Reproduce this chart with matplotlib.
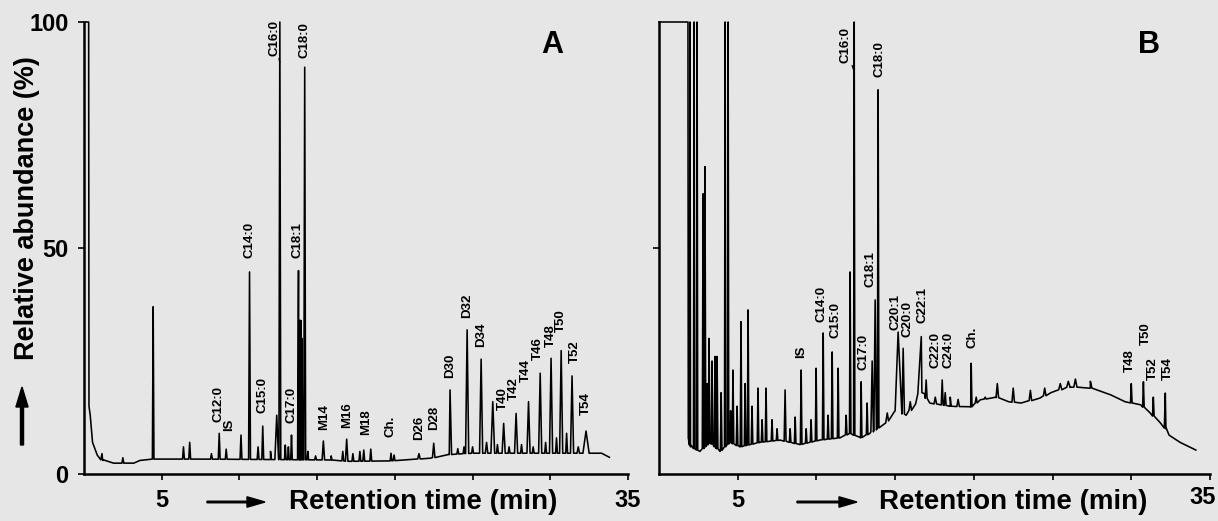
import numpy as np
import matplotlib
matplotlib.use('Agg')
import matplotlib.pyplot as plt

plt.rcParams['font.family'] = ['Liberation Sans', 'DejaVu Sans']
plt.rcParams['font.weight'] = 'bold'

# ---- panel A : baseline vertices (min, %) and peaks (min, %, half width)
a_base_t = [0.1, 0.3, 0.32, 0.4, 0.55, 0.85, 1.2, 1.9, 3.2, 3.6, 4.4, 7.5, 12.0,
            15.9, 17.0, 19.7, 22.3, 23.5, 24.9, 33.3, 33.8]
a_base_v = [100, 100, 15, 13, 7, 4.2, 3.0, 2.4, 2.4, 3.0, 3.3, 3.3, 3.2,
            3.1, 2.8, 2.9, 3.5, 4.3, 4.6, 4.6, 3.7]
a_peak_t = [1.16, 2.5, 4.45, 6.4, 6.8, 8.2, 8.7, 9.15, 10.1, 10.65, 11.2, 11.5, 12.0,
            12.4, 12.6, 12.95, 13.15, 13.35, 13.8, 13.87, 13.95, 14.02, 14.2, 14.4,
            14.9, 15.4, 15.9, 16.65, 16.9, 17.3, 17.75, 18.0, 18.45, 19.75, 19.95,
            21.55, 22.5, 23.55, 24.05, 24.45, 24.65, 25.0, 25.55, 25.9, 26.3, 26.6,
            27.0, 27.35, 27.8, 28.15, 28.6, 28.9, 29.35, 29.7, 30.05, 30.4, 30.7,
            31.05, 31.4, 31.8, 32.3]
a_peak_h = [4.5, 3.6, 37, 6, 7, 4.5, 9, 5.5, 8.6, 44.7, 6, 10.6, 5,
            13, 100, 6.4, 6, 8.6, 45, 34, 34, 30, 90, 5,
            4, 7.3, 4, 5, 7.7, 4.5, 5, 5.3, 5.5, 4.6, 4.2,
            4.5, 6.8, 18.6, 5.6, 6, 31.9, 6, 25.4, 7, 16, 6.5,
            11.2, 6, 13.4, 6.5, 16, 6, 22.3, 7, 25.6, 8, 27.3,
            9, 21.7, 6, 9.5]
a_peak_w = [0.08, 0.06, 0.05, 0.06, 0.06, 0.06, 0.06, 0.06, 0.06, 0.06, 0.06, 0.06, 0.06,
            0.12, 0.06, 0.05, 0.05, 0.05, 0.06, 0.05, 0.05, 0.05, 0.06, 0.05,
            0.06, 0.08, 0.06, 0.06, 0.08, 0.06, 0.06, 0.06, 0.06, 0.06, 0.06,
            0.08, 0.08, 0.1, 0.06, 0.06, 0.1, 0.06, 0.1, 0.08, 0.12, 0.06,
            0.1, 0.06, 0.1, 0.06, 0.1, 0.06, 0.1, 0.06, 0.1, 0.06, 0.1,
            0.06, 0.1, 0.08, 0.2]

a_lab = ['C12:0', 'IS', 'C14:0', 'C15:0', 'C17:0', 'C18:1', 'C18:0', 'M14', 'M16', 'M18',
         'Ch.', 'D26', 'D28', 'D30', 'D32', 'D34', 'T40', 'T42', 'T44', 'T46', 'T48',
         'T50', 'T52', 'T54']
a_lab_t = [8.65, 9.35, 10.65, 11.48, 13.35, 13.74, 14.19, 15.42, 16.9, 18.13,
           19.74, 21.55, 22.5, 23.55, 24.65, 25.55, 26.97, 27.68, 28.45, 29.23, 30.06,
           30.71, 31.55, 32.32]
a_lab_y = [11.5, 9.5, 47.8, 13.5, 11.3, 47.8, 92, 9.7, 10.2, 8.6,
           8.2, 7.5, 9.7, 21.2, 34.5, 28.1, 14.2, 16.4, 20.4, 25.2, 28.1,
           31.4, 24.6, 13.0]

# ---- panel B
b_base_t = [0, 1.84, 1.86, 2.0, 2.6, 3.24, 3.88, 4.5, 5.15, 6.4, 7.7, 8.96, 10.2,
            11.5, 12.1, 12.8, 13.4, 14.4, 15.0, 15.7, 16.3, 16.7, 17.2, 18.5, 19.8,
            20.4, 21.4, 22.2, 23.0, 24.2, 24.9, 26.1, 27.4, 28.7, 29.6, 30.6, 31.2,
            31.85, 32.2, 32.4, 33.1, 34.1]
b_base_v = [100, 100, 8, 6, 5, 7, 5, 7, 6, 7, 7.5, 6.5, 7.5,
            8, 9, 8, 9, 11.3, 14, 13, 15.5, 18, 15.7, 15, 14.8,
            16.4, 17, 16, 15.7, 16.8, 18, 19.3, 19.0, 17.5, 16, 15.3, 13.5,
            11.3, 10, 8.6, 7, 5.3]
b_peak_t = [1.97, 2.23, 2.42, 2.80, 2.92, 3.05, 3.18, 3.37, 3.56, 3.69, 3.95, 4.20, 4.39,
            4.55, 4.70, 4.96, 5.21, 5.47, 5.66, 5.91, 6.29, 6.55, 6.80, 7.18, 7.5,
            8.01, 8.33, 8.65, 9.03, 9.35, 9.66, 9.98, 10.43, 10.74, 11.0, 11.38, 11.89,
            12.14, 12.4, 12.84, 13.22, 13.54, 13.73, 13.92, 14.5, 15.19, 15.51, 15.96,
            16.66, 16.97, 17.55, 17.99, 18.18, 18.5, 19.0, 19.83, 20.15, 20.72, 21.49,
            22.5, 23.59, 24.5, 25.49, 26.0, 26.45, 27.4, 30.0, 30.77, 31.4, 32.16]
b_peak_h = [100, 100, 100, 62, 68, 20, 30, 25, 26, 26, 18, 100, 100,
            14, 23, 15, 33.7, 20, 36.3, 15, 19, 12, 19, 12, 10,
            18.6, 10, 12.6, 23, 10, 12, 23.4, 31.2, 13, 27, 23.4, 13,
            44.7, 100, 20.4, 15.7, 25, 38.5, 85, 13.5, 31.4, 27.8, 16,
            30.4, 20.8, 17, 20.8, 18, 17, 16.5, 24.5, 17, 17, 20,
            19, 18.5, 19, 20, 20.5, 21, 20.5, 20, 20.4, 17, 17.9]
b_peak_w = [0.04, 0.04, 0.04, 0.05, 0.05, 0.05, 0.05, 0.05, 0.05, 0.05, 0.05, 0.04, 0.04,
            0.05, 0.05, 0.05, 0.05, 0.05, 0.05, 0.05, 0.05, 0.05, 0.05, 0.05, 0.05,
            0.06, 0.05, 0.05, 0.05, 0.05, 0.05, 0.05, 0.05, 0.05, 0.05, 0.05, 0.05,
            0.05, 0.04, 0.05, 0.05, 0.08, 0.08, 0.05, 0.08, 0.25, 0.08, 0.08,
            0.22, 0.06, 0.08, 0.06, 0.06, 0.06, 0.08, 0.05, 0.06, 0.06, 0.08,
            0.08, 0.08, 0.08, 0.1, 0.1, 0.1, 0.1, 0.05, 0.05, 0.05, 0.06]

b_lab = ['IS', 'C14:0', 'C15:0', 'C17:0', 'C18:1', 'C18:0', 'C20:1', 'C20:0', 'C22:1',
         'C22:0', 'C24:0', 'Ch.', 'T48', 'T50', 'T52', 'T54']
b_lab_t = [9.03, 10.3, 11.19, 12.97, 13.41, 13.99, 15.0, 15.77, 16.72,
           17.55, 18.37, 19.9, 29.94, 30.9, 31.4, 32.3]
b_lab_y = [25.7, 33.6, 30.0, 23.0, 41.4, 87.8, 31.9, 30.3, 33.4,
           23.5, 23.5, 27.9, 22.6, 28.5, 20.8, 20.8]


def trace(bt, bv, pt, ph, pw):
    foot = np.interp(pt, bt, bv)
    t = list(bt)
    v = list(bv)
    for p, h, w, f in zip(pt, ph, pw, foot):
        t += [p - w, p, p + w]
        v += [f, h, f]
    order = np.argsort(t, kind='stable')
    return np.array(t)[order], np.array(v)[order]


fig = plt.figure(figsize=(12.18, 5.21), dpi=100, facecolor='#e6e6e6')
axA = fig.add_axes([84/1218, 47/521, 544/1218, 452/521])
axB = fig.add_axes([659/1218, 47/521, 551/1218, 452/521])

for ax, data, labs, letter in [
        (axA, (a_base_t, a_base_v, a_peak_t, a_peak_h, a_peak_w), (a_lab, a_lab_t, a_lab_y), 'A'),
        (axB, (b_base_t, b_base_v, b_peak_t, b_peak_h, b_peak_w), (b_lab, b_lab_t, b_lab_y), 'B')]:
    t, v = trace(*data)
    ax.plot(t, v, '-', color='k', lw=1.15, clip_on=False)
    for name, lt, ly in zip(*labs):
        ax.text(lt, ly, name, rotation=90, ha='center', va='bottom', fontsize=9.5)
    ax.set_xlim(0, 35)
    ax.set_ylim(0, 100)
    ax.patch.set_visible(False)
    for s in ['top', 'right']:
        ax.spines[s].set_visible(False)
    for s in ['left', 'bottom']:
        ax.spines[s].set_linewidth(1.8)
    ax.set_xticks([5, 10, 15, 20, 25, 30, 35])
    ax.tick_params(direction='out', length=4, width=1.2, pad=7)
    ax.text(0.86 if letter == 'A' else 0.889, 0.95, letter, transform=ax.transAxes,
            fontsize=22, fontweight='heavy', ha='center', va='center')

axA.set_xticklabels(['5', '', '', '', '', '', '35'], fontsize=17, fontweight='bold')
axB.set_xticklabels(['5', '', '', '', '', '', ''], fontsize=17, fontweight='bold')
axB.text(1203/1218, 1 - 497/521, '35', transform=fig.transFigure, fontsize=17,
         ha='center', va='center')
axA.set_yticks([0, 50, 100])
axA.set_yticklabels(['0', '50', '100'], fontsize=17, fontweight='bold')
axB.set_yticks([50])
axB.set_yticklabels([''])

# C16:0 labels with short leader lines
axA.annotate('C16:0', xy=(12.6, 91), xytext=(12.26, 92.5), rotation=90, ha='center', va='bottom',
             fontsize=9.5, arrowprops=dict(arrowstyle='-', lw=0.9, shrinkA=0, shrinkB=0))
axB.annotate('C16:0', xy=(12.4, 89), xytext=(11.82, 91), rotation=90, ha='center', va='bottom',
             fontsize=9.5, arrowprops=dict(arrowstyle='-', lw=0.9, shrinkA=0, shrinkB=0))

fig.text(27/1218, 1 - 208/521, 'Relative abundance (%)', rotation=90, fontsize=19.5,
         ha='center', va='center')
fig.patches.append(matplotlib.patches.FancyArrow(22/1218, 1 - 445/521, 0, 58/521, width=0.0025,
                                                 head_width=0.01, head_length=20/521,
                                                 length_includes_head=True, color='k',
                                                 transform=fig.transFigure, figure=fig))

for cx, ax0, ax1 in [(423, 207, 265), (1013, 797, 857)]:
    fig.text(cx/1218, 1 - 502/521, 'Retention time (min)', fontsize=20, ha='center', va='center')
    fig.patches.append(matplotlib.patches.FancyArrow(ax0/1218, 1 - 502/521, (ax1 - ax0)/1218, 0,
                                                     width=0.003, head_width=0.02,
                                                     head_length=18/1218,
                                                     length_includes_head=True, color='k',
                                                     transform=fig.transFigure, figure=fig))

fig.savefig('out.png', dpi=100, facecolor=fig.get_facecolor())
